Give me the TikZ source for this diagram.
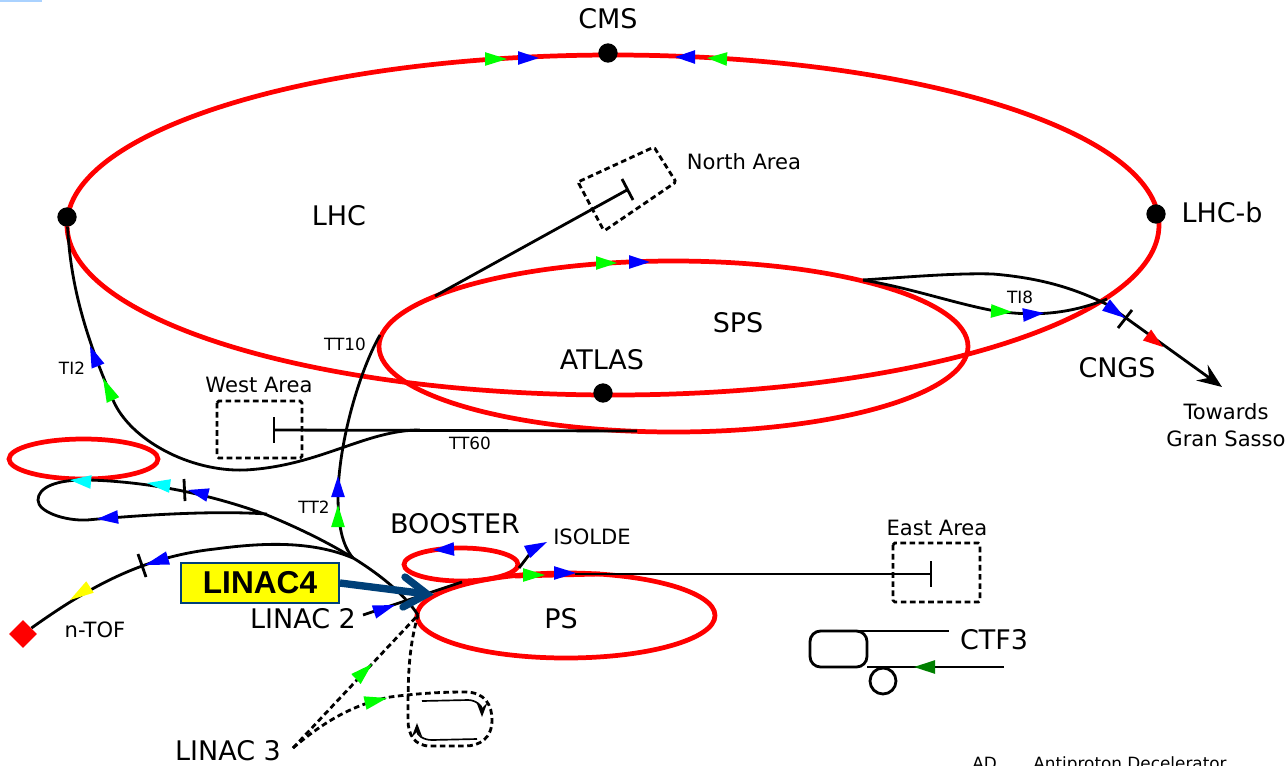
\documentclass[tikz,border=0pt]{standalone}
\usepackage{fontspec}
\setmainfont{DejaVu Sans}
\newfontfamily\boxfont{Liberation Sans}
\usepackage{tikz}
\usepackage{xcolor}
\usetikzlibrary{arrows.meta,calc,shapes.geometric}

\definecolor{beamred}{RGB}{255,0,0}
\definecolor{beamblue}{RGB}{0,0,255}
\definecolor{beamgreen}{RGB}{0,255,0}
\definecolor{beamcyan}{RGB}{0,255,255}
\definecolor{beamyellow}{RGB}{255,255,0}
\definecolor{darkgreen}{RGB}{0,128,0}
\definecolor{linacblue}{RGB}{0,64,120}
\definecolor{tabblue}{RGB}{170,210,255}

\tikzset{
  ring/.style={draw=beamred,line width=2.7pt},
  line/.style={draw=black,line width=1.6pt},
  dline/.style={line,dash pattern=on 3.2pt off 2pt},
  thin line/.style={draw=black,line width=0.95pt},
  big/.style={font=\fontsize{15.35}{17}\selectfont},
  mid/.style={font=\fontsize{12}{14}\selectfont},
  small/.style={font=\fontsize{9.6}{11}\selectfont},
  dot/.style={circle,fill=black,inner sep=0pt,minimum size=11pt},
}
% triangle on a beam line: colour, tip, middle of the base
\newcommand{\beammark}[3]{\fill[#1] (#2) -- ($(#3)!3.9pt!90:(#2)$) -- ($(#3)!3.9pt!-90:(#2)$) -- cycle;}

\begin{document}
\begin{tikzpicture}[x=0.02cm,y=-0.02cm]
      \useasboundingbox (0,0) rectangle (1288,765);
      \clip (0,0) rectangle (1288,765);
      \fill[tabblue] (0,0) rectangle (42,1.5);
      % rings
      \draw[ring] (613,225) ellipse (546 and 170);
      \draw[ring] (673.5,346.5) ellipse (294.5 and 85.5);
      \draw[ring] (566,615.5) ellipse (149 and 42.5);
      \draw[ring] (461,564.5) ellipse (57 and 16.5);
      \draw[ring] (83.5,459) ellipse (74.5 and 20);
      \draw[ring] (515,576) -- (600,574);
      % points on the rings
      \node[dot] (cms) at (608,53) {};
      \node[dot] (lhcb) at (1156,214) {};
      \node[dot] (ip2) at (67,217) {};
      \node[dot] (atlas) at (603,393) {};
      \node[diamond,fill=beamred,inner sep=0pt,minimum size=16pt] (ntof) at (23,634) {};
      % junctions
      \coordinate (merge) at (353,558);
      \coordinate (pssw) at (418,615);
      \coordinate (l3) at (293,748);
      % TI2 and TT60
      \draw[line] (ip2) .. controls (70,270) and (78,320) .. (113,400) .. controls (130,440) and (190,472) .. (245,470) .. controls (320,466) and (365,430) .. (420,430);
      \draw[line] (274,430) -- (637,431);
      \draw[line] (274,417) -- (274,443);
      % TT2, TT10
      \draw[line] (merge) .. controls (342,545) and (338,525) .. (338,495) .. controls (339,440) and (360,370) .. (380,335);
      \draw[line] (435,296) -- (627,190);
      \draw[line] (622,179) -- (633,200);
      % transfer lines on the left
      \draw[line] (pssw) .. controls (395,580) and (340,545) .. (267,515) .. controls (210,494) and (150,482) .. (90,480) .. controls (55,479) and (38,488) .. (38,500) .. controls (38,512) and (65,521) .. (87,520) .. controls (130,516) and (210,510) .. (267,514);
      \draw[line] (merge) .. controls (310,540) and (260,543) .. (215,549) .. controls (140,557) and (85,590) .. (ntof);
      \draw[line] (184,479) -- (185,501);
      \draw[line] (138,554) -- (146,577);
      % LINAC 2
      \draw[line] (363,615) -- (372,612);
      \draw[line] (372,612) -- (462,582);
      % ISOLDE
      \draw[line] (519,568) -- (532,551);
      % East Area
      \draw[line] (575,574) -- (931,574);
      \draw[line] (931,561) -- (931,587);
      % TI8 and CNGS
      \draw[line] (863,280) .. controls (920,276) and (960,273) .. (993,274) .. controls (1040,278) and (1075,288) .. (1110,306);
      \draw[line] (863,280) .. controls (910,288) and (950,302) .. (990,310) .. controls (1020,315) and (1060,318) .. (1107,299);
      \draw[line,-{Stealth[length=14pt,width=11pt,inset=5pt]}] (1108,305) -- (1222,387);
      \draw[line] (1132,310) -- (1118,328);
      % LINAC 3
      \draw[dline] (l3) -- (pssw);
      \draw[dline] (l3) .. controls (320,725) and (350,705) .. (390,697) .. controls (420,693) and (445,692) .. (465,692) .. controls (485,692) and (492,705) .. (492,720) .. controls (492,738) and (480,746) .. (465,746) -- (430,746) .. controls (415,746) and (408,735) .. (408,720) .. controls (408,680) and (408,650) .. (pssw);
      \draw[thin line,-{Stealth[length=8pt,width=6pt,inset=3pt]}] (422,701) -- (468,700) .. controls (476,700) and (482,706) .. (482,717);
      \draw[thin line,-{Stealth[length=8pt,width=6pt,inset=3pt]}] (477,739) -- (432,740) .. controls (423,740) and (417,735) .. (417,723);
      % CTF3
      \draw[line] (830,631) -- (949,631);
      \draw[line,rounded corners=6pt] (810,631) rectangle (867,667);
      \draw[line] (867,667) -- (1004,667);
      \draw[line] (883,681) circle (13);
      % experimental areas
      \draw[dline,rounded corners=1pt] (578,182) -- (654,147) -- (676,182) -- (604,231) -- cycle;
      \draw[dline,rounded corners=1pt] (217,401) rectangle (302,458);
      \draw[dline,rounded corners=1pt] (893,543) rectangle (980,602);
      % triangles
      \beammark{beamgreen}{507,59}{485,59}
      \beammark{beamblue}{539,58}{518,58}
      \beammark{beamblue}{675,57}{695,57}
      \beammark{beamgreen}{707,58}{727,59}
      \beammark{beamgreen}{617,263}{596,263}
      \beammark{beamblue}{650,262}{629,262}
      \beammark{beamblue}{90,346}{98,366}
      \beammark{beamgreen}{103,378}{113,400}
      \beammark{beamblue}{338,476}{338,497}
      \beammark{beamgreen}{338,505}{338,527}
      \beammark{beamcyan}{70,480}{91,482}
      \beammark{beamcyan}{147,483}{170,486}
      \beammark{beamblue}{188,490}{208,495}
      \beammark{beamblue}{97,519}{118,517}
      \beammark{beamblue}{145,565}{168,558}
      \beammark{beamyellow}{70,600}{90,587}
      \beammark{beamblue}{395,605}{374,612}
      \beammark{beamblue}{433,550}{454,549}
      \beammark{beamblue}{547,542}{527,552}
      \beammark{beamgreen}{545,575}{523,575}
      \beammark{beamblue}{576,573}{554,573}
      \beammark{beamgreen}{372,664}{356,679}
      \beammark{beamgreen}{387,698}{365,703}
      \beammark{beamgreen}{1012,312}{991,311}
      \beammark{beamblue}{1044,313}{1023,315}
      \beammark{beamblue}{1125,318}{1106,305}
      \beammark{beamred}{1163,347}{1147,335}
      \beammark{darkgreen}{914,667}{935,667}
      % LINAC4
      \node[draw=linacblue,line width=1pt,fill=beamyellow,minimum width=90pt,minimum height=22.5pt,inner sep=0pt,font=\boxfont\bfseries\fontsize{18}{20}\selectfont] (linacfour) at (260,583) {\raisebox{-1pt}{LINAC4}};
      \coordinate (linacend) at (427,594);
      \draw[linacblue,line width=4.2pt] (linacfour.east) -- (linacend);
      \draw[linacblue,line width=4.2pt,line cap=round] (405,577) -- (linacend) -- (403,607);
      % labels
      \node[big] (cmslabel) at (608,19) {CMS};
      \node[big] (lhclabel) at (339,216) {LHC};
      \node[big] (lhcblabel) at (1222,212) {LHC-b};
      \node[big] (spslabel) at (738,323) {SPS};
      \node[big] (atlaslabel) at (602,360) {ATLAS};
      \node[big] (cngslabel) at (1117,368) {CNGS};
      \node[big] (boosterlabel) at (455,524) {BOOSTER};
      \node[big] (pslabel) at (561,619) {PS};
      \node[big] (linactwo) at (303,619) {LINAC 2};
      \node[big] (linacthree) at (228,751) {LINAC 3};
      \node[big] (ctflabel) at (994,640) {CTF3};
      \node[mid] (northlabel) at (744,162) {North Area};
      \node[mid] (westlabel) at (259,385) {West Area};
      \node[mid] (eastlabel) at (937,528) {East Area};
      \node[mid] (isoldelabel) at (592,537) {ISOLDE};
      \node[mid] (ntoflabel) at (95,630) {n-TOF};
      \node[mid] (towards) at (1226,412) {Towards};
      \node[mid] (gransasso) at (1226,439) {Gran Sasso};
      \node[small,anchor=base west,inner sep=0pt] (adlabel) at (972,769.5) {AD};
      \node[small,anchor=base west,inner sep=0pt] (adname) at (1033,769.5) {Antiproton Decelerator};
      \node[small] (titwo) at (72,368) {TI2};
      \node[small] (tttwo) at (314,507) {TT2};
      \node[small] (ttten) at (345,344) {TT10};
      \node[small] (ttsixty) at (470,443) {TT60};
      \node[small] (tieight) at (1020,297) {TI8};
\end{tikzpicture}
\end{document}
